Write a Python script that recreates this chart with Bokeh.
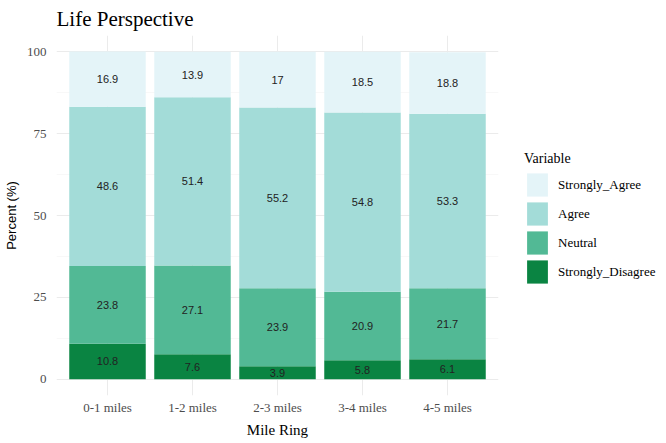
from bokeh.plotting import figure
from bokeh.models import FactorRange, Range1d, FixedTicker, Legend, LegendItem, ColumnDataSource
from bokeh.core.properties import value
from bokeh.embed import file_html
from bokeh.resources import INLINE

# ---- data ----
rings = ["0-1 miles", "1-2 miles", "2-3 miles", "3-4 miles", "4-5 miles"]
strongly_disagree = [10.8, 7.6, 3.9, 5.8, 6.1]
neutral = [23.8, 27.1, 23.9, 20.9, 21.7]
agree = [48.6, 51.4, 55.2, 54.8, 53.3]
strongly_agree = [16.9, 13.9, 17.0, 18.5, 18.8]
series_names = ["Strongly_Disagree", "Neutral", "Agree", "Strongly_Agree"]
series_colors = ["#0a8442", "#52b995", "#a3dcd8", "#e4f4f8"]
y_ticks = [0, 25, 50, 75, 100]
y_minor_ticks = [12.5, 37.5, 62.5, 87.5]

series_values = [strongly_disagree, neutral, agree, strongly_agree]

p = figure(
    x_range=FactorRange(factors=rings, range_padding=0.1, range_padding_units="absolute"),
    y_range=Range1d(-5, 105),
    frame_width=442, frame_height=360,
    min_border_left=48, min_border_right=160, min_border_top=27, min_border_bottom=40,
    output_backend="svg", toolbar_location=None,
    background_fill_color="white", border_fill_color="white", outline_line_color=None,
)

# title
p.title.text = "Life Perspective"
p.title.text_font = "Liberation Serif"
p.title.text_font_size = "21px"
p.title.text_font_style = "normal"
p.title.text_color = "black"
p.title.offset = 0
p.title.standoff = 9

# stacked bars
renderers = {}
bottoms = [0.0] * len(rings)
label_x, label_y, label_t = [], [], []
for name, vals, col in zip(series_names, series_values, series_colors):
    tops = [b + v for b, v in zip(bottoms, vals)]
    src = ColumnDataSource(dict(x=rings, bottom=bottoms, top=tops))
    r = p.vbar(x="x", bottom="bottom", top="top", width=0.9, source=src,
               fill_color=col, line_color=None)
    renderers[name] = r
    for xi, b, t, v in zip(rings, bottoms, tops, vals):
        label_x.append(xi)
        label_y.append((b + t) / 2)
        label_t.append(f"{v:g}")
    bottoms = tops

lab_src = ColumnDataSource(dict(x=label_x, y=label_y, t=label_t))
p.text(x="x", y="y", text="t", source=lab_src, text_align="center", text_baseline="middle",
       text_font=value("Liberation Sans"), text_font_size="11px", text_color="#222222")

# axes
for ax in (p.xaxis[0], p.yaxis[0]):
    ax.axis_line_color = None
    ax.major_tick_line_color = None
    ax.minor_tick_line_color = None
    ax.major_label_text_font = "Liberation Serif"
    ax.major_label_text_font_size = "13px"
    ax.major_label_text_color = "#4d4d4d"

p.yaxis[0].ticker = FixedTicker(ticks=y_ticks, minor_ticks=y_minor_ticks)
p.yaxis[0].major_label_standoff = 4
p.yaxis[0].axis_label = "Percent (%)"
p.yaxis[0].axis_label_text_font = "Liberation Sans"
p.yaxis[0].axis_label_text_font_size = "13px"
p.yaxis[0].axis_label_text_font_style = "normal"
p.yaxis[0].axis_label_text_color = "black"
p.yaxis[0].axis_label_standoff = 5

p.xaxis[0].major_label_standoff = -2
p.xaxis[0].axis_label = "Mile Ring"
p.xaxis[0].axis_label_text_font = "Liberation Serif"
p.xaxis[0].axis_label_text_font_size = "15px"
p.xaxis[0].axis_label_text_font_style = "normal"
p.xaxis[0].axis_label_text_color = "black"
p.xaxis[0].axis_label_standoff = 4

# grid
p.xgrid.grid_line_color = "#ebebeb"
p.xgrid.grid_line_width = 1
p.ygrid.grid_line_color = "#ebebeb"
p.ygrid.grid_line_width = 1
p.ygrid.minor_grid_line_color = "#f3f3f3"
p.ygrid.minor_grid_line_width = 0.6

# legend
legend_order = ["Strongly_Agree", "Agree", "Neutral", "Strongly_Disagree"]
items = [LegendItem(label=n, renderers=[renderers[n]]) for n in legend_order]
legend = Legend(
    items=items, location=(26, 109), title="Variable",
    title_text_font="Liberation Serif", title_text_font_size="14px",
    title_text_font_style="normal", title_text_color="black", title_standoff=3,
    label_text_font="Liberation Serif", label_text_font_size="13px", label_text_color="black",
    glyph_width=26, glyph_height=29, label_height=29, spacing=-5, label_standoff=8,
    padding=0, margin=0, border_line_color=None, background_fill_alpha=0,
)
p.add_layout(legend, "right")

open("out.html", "w").write(file_html(p, INLINE))
